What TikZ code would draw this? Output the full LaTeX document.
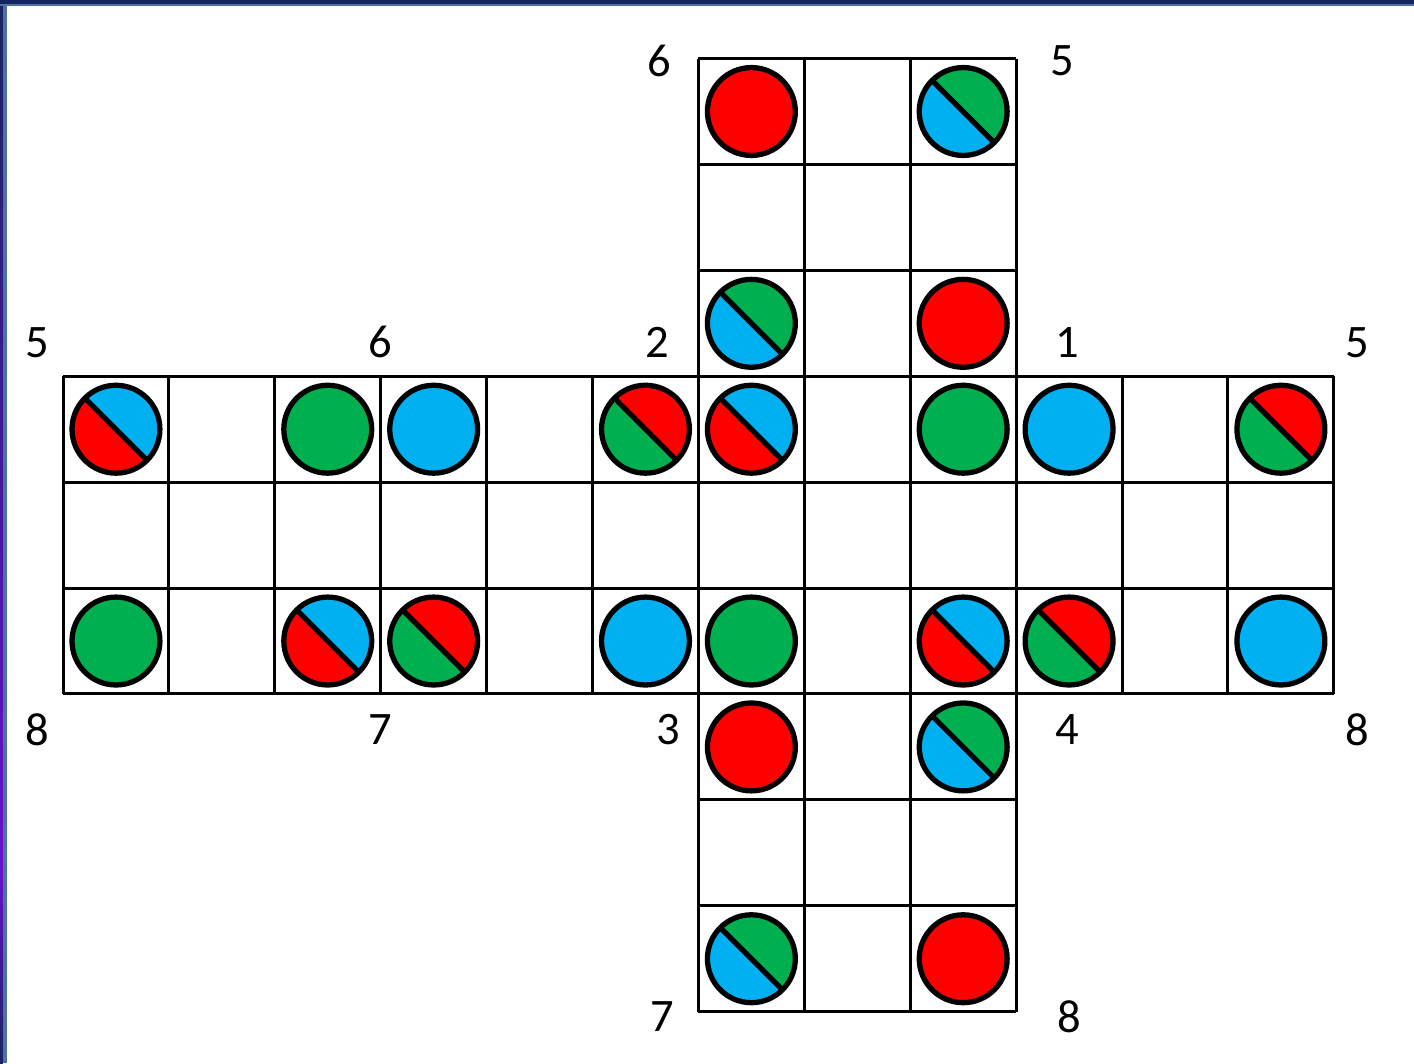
\documentclass[tikz,border=0pt]{standalone}
\usepackage{fontspec}
\setmainfont{Carlito}
\definecolor{dotred}{RGB}{255,0,0}
\definecolor{dotgreen}{RGB}{0,176,80}
\definecolor{dotblue}{RGB}{0,176,240}
\definecolor{framenavy}{RGB}{22,36,96}
\definecolor{framesteel}{RGB}{78,112,162}
\definecolor{framepurple}{RGB}{104,16,205}
\begin{document}
\begin{tikzpicture}[x=2.118cm,y=2.118cm,
    gridline/.style={line width=1.7pt},
    discline/.style={line width=3pt},
    facenum/.style={font=\fontsize{26.5}{30}\selectfont,inner sep=0pt},
    pics/disc/.style={code={
        \draw[discline,fill=#1] (0,0) circle (0.415);
    }},
    pics/halfdisc/.style 2 args={code={
        \fill[#1] (-45:0.415) arc[start angle=-45,end angle=135,radius=0.415] -- cycle;
        \fill[#2] (135:0.415) arc[start angle=135,end angle=315,radius=0.415] -- cycle;
        \draw[discline] (135:0.415) -- (-45:0.415);
        \draw[discline] (0,0) circle (0.415);
    }}
]
\useasboundingbox (-0.595,-3.485) rectangle (12.757,6.553);
\fill[white] (-0.595,-3.485) rectangle (12.757,6.553);

% frame
\fill[framesteel] (-0.595,-3.485) rectangle (-0.529,6.553);
\fill[top color=framenavy,bottom color=framepurple] (-0.595,-1.64) rectangle (-0.567,6.553);
\fill[top color=framepurple,bottom color=framenavy] (-0.595,-3.485) rectangle (-0.567,-1.64);
\fill[framesteel] (-0.595,6.496) rectangle (12.757,6.553);
\fill[framenavy] (-0.595,6.515) rectangle (12.757,6.553);

% cube net
\draw[gridline,step=1] (0,0) grid (12,3);
\draw[gridline,step=1] (6,3) grid (9,6);
\draw[gridline,step=1] (6,-3) grid (9,0);

% plain dots
\foreach \x/\y/\c in {2.5/2.5/dotgreen, 3.5/2.5/dotblue, 8.5/2.5/dotgreen, 9.5/2.5/dotblue,
    0.5/0.5/dotgreen, 5.5/0.5/dotblue, 6.5/0.5/dotgreen, 11.5/0.5/dotblue,
    6.5/5.5/dotred, 8.5/3.5/dotred, 6.5/-0.5/dotred, 8.5/-2.5/dotred}
    \pic at (\x,\y) {disc=\c};

% split dots
\foreach \x/\y/\a/\b in {0.5/2.5/dotblue/dotred, 5.5/2.5/dotred/dotgreen,
    6.5/2.5/dotblue/dotred, 11.5/2.5/dotred/dotgreen,
    2.5/0.5/dotblue/dotred, 3.5/0.5/dotred/dotgreen,
    8.5/0.5/dotblue/dotred, 9.5/0.5/dotred/dotgreen,
    8.5/5.5/dotgreen/dotblue, 6.5/3.5/dotgreen/dotblue,
    8.5/-0.5/dotgreen/dotblue, 6.5/-2.5/dotgreen/dotblue}
    \pic at (\x,\y) {halfdisc={\a}{\b}};

% corner numbers
\node[facenum] (topsix) at (5.63,5.98) {6};
\node[facenum] (topfive) at (9.44,5.98) {5};
\node[facenum] (leftfive) at (-0.245,3.32) {5};
\node[facenum] (midsix) at (3.0,3.32) {6};
\node[facenum] (cornertwo) at (5.61,3.32) {2};
\node[facenum] (cornerone) at (9.48,3.32) {1};
\node[facenum] (rightfive) at (12.22,3.32) {5};
\node[facenum] (lefteight) at (-0.245,-0.34) {8};
\node[facenum] (midseven) at (3.0,-0.34) {7};
\node[facenum] (cornerthree) at (5.72,-0.34) {3};
\node[facenum] (cornerfour) at (9.48,-0.34) {4};
\node[facenum] (righteight) at (12.22,-0.34) {8};
\node[facenum] (botseven) at (5.66,-3.05) {7};
\node[facenum] (boteight) at (9.5,-3.05) {8};
\end{tikzpicture}
\end{document}
